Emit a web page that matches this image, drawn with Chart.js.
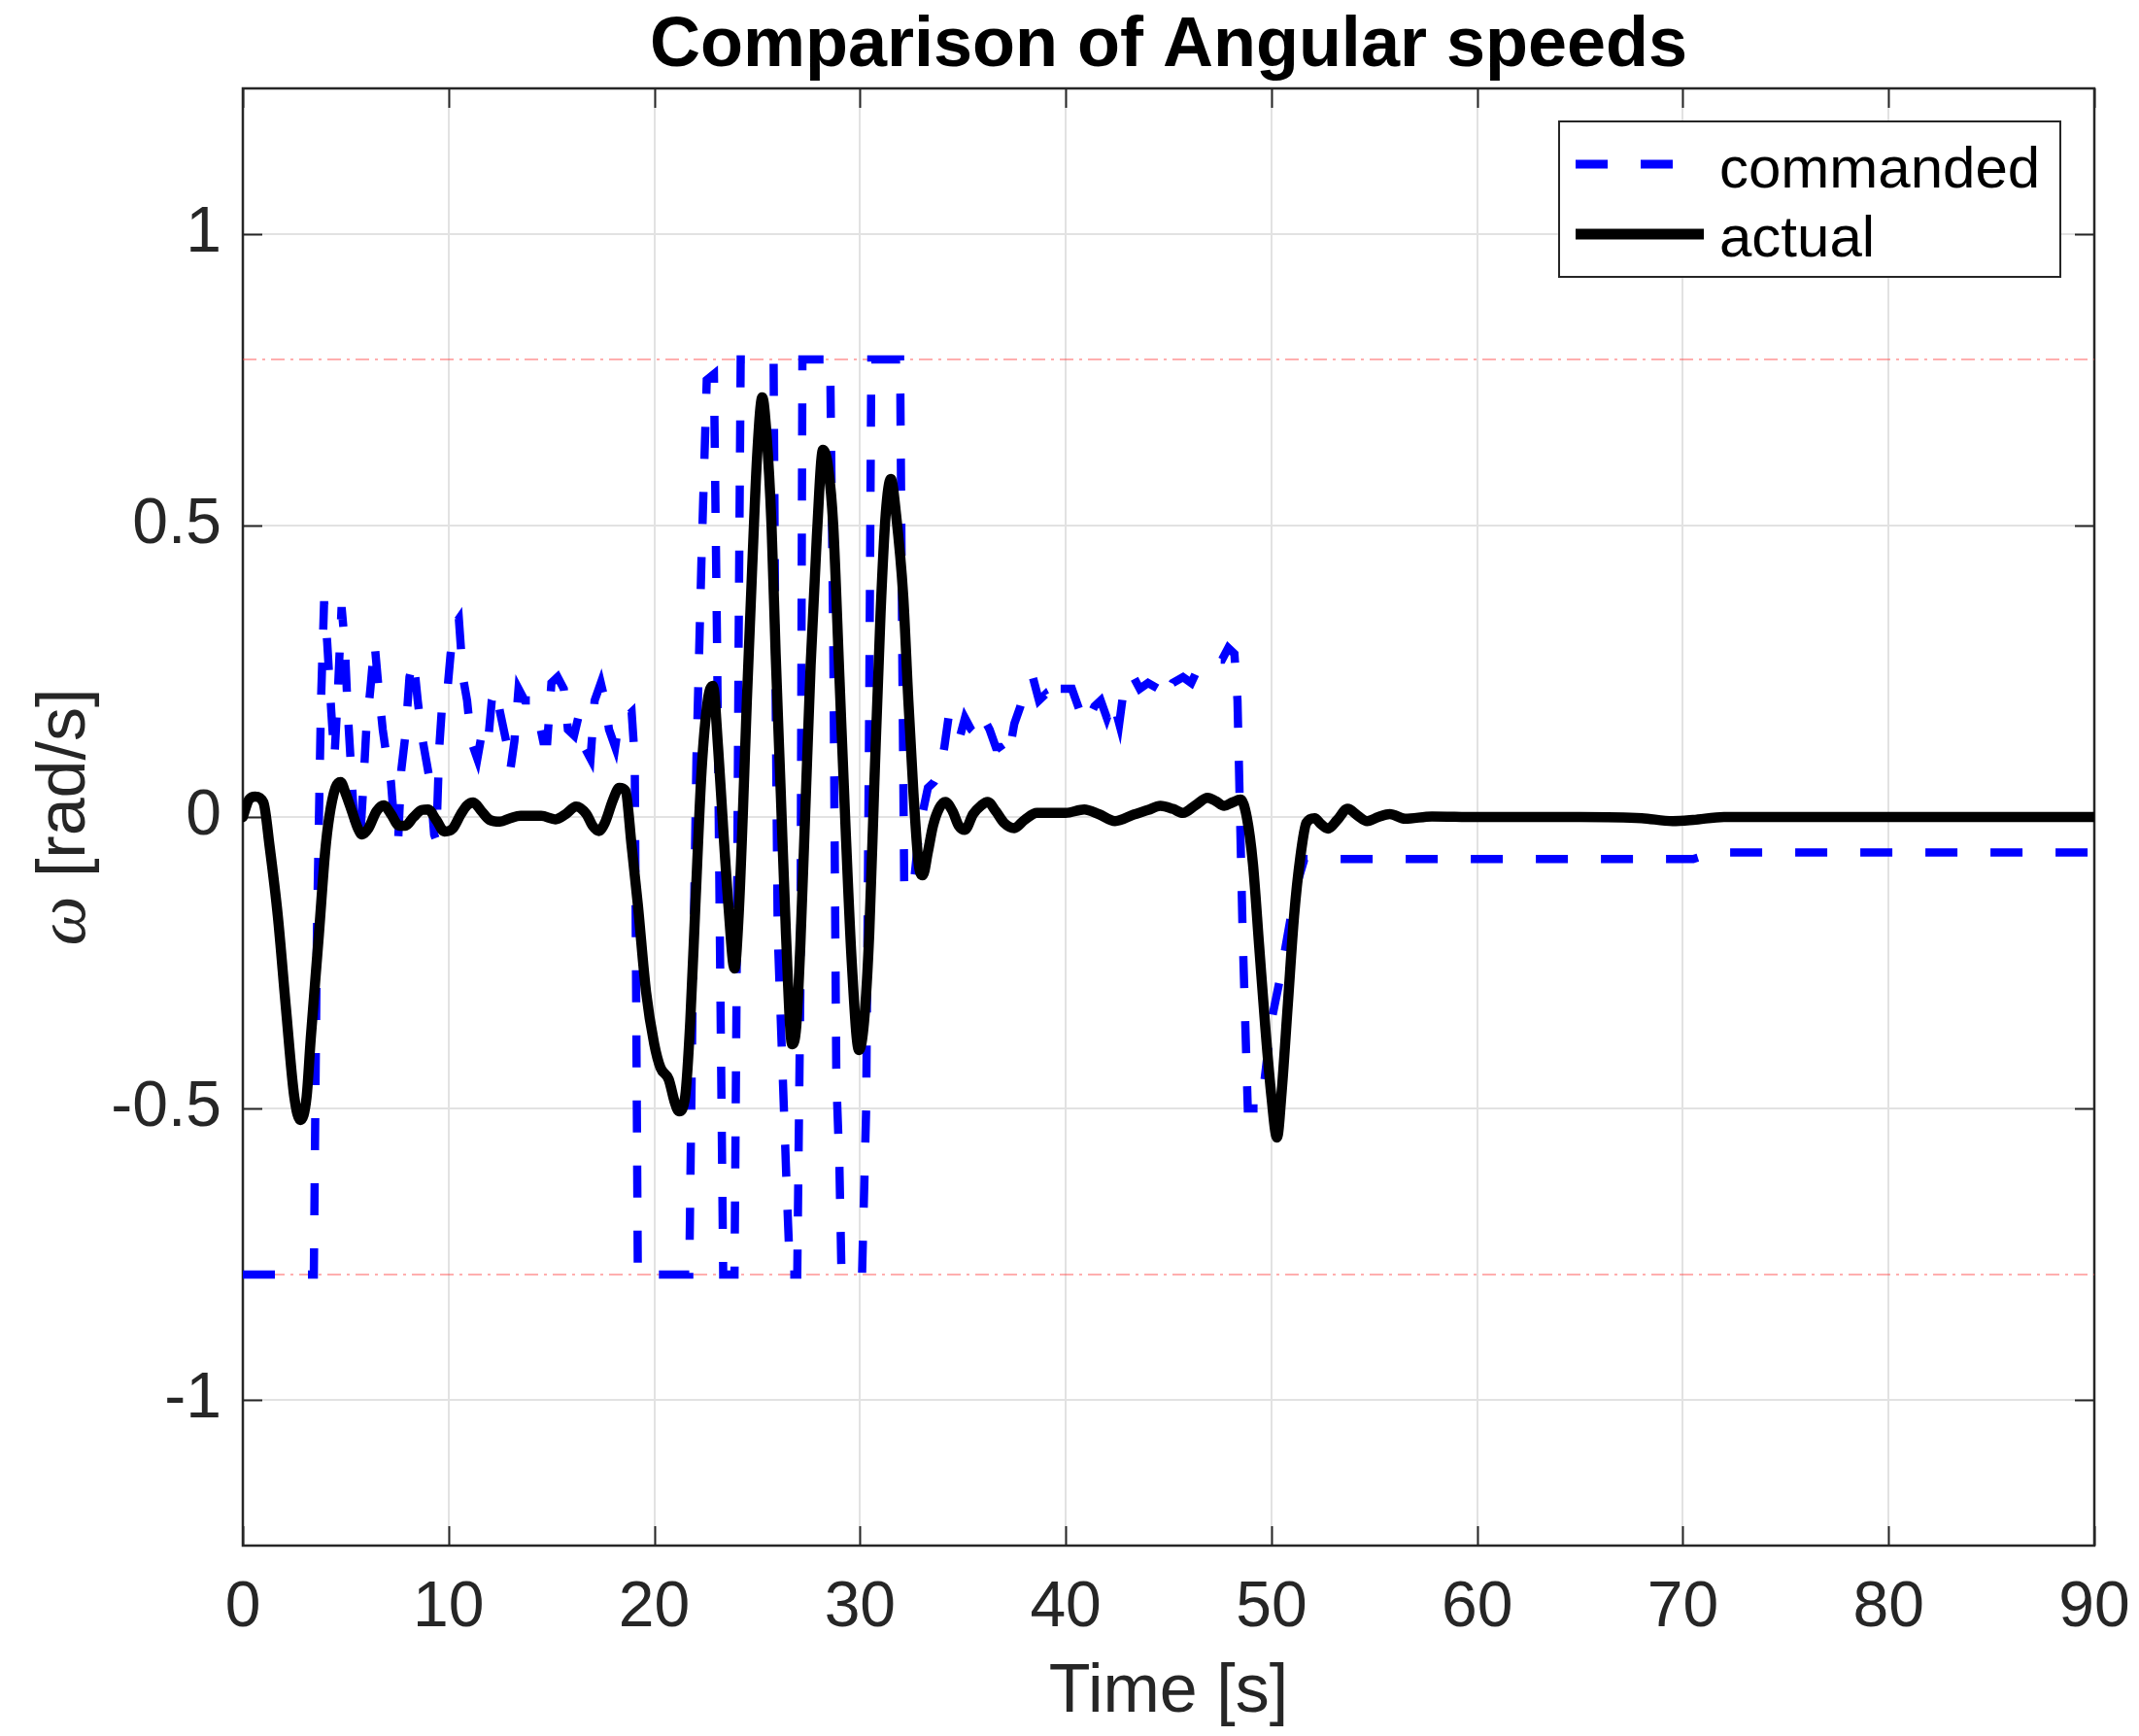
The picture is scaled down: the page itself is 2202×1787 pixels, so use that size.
<!DOCTYPE html>
<html>
<head>
<meta charset="utf-8">
<script src="https://cdn.jsdelivr.net/npm/chart.js@4/dist/chart.umd.min.js"></script>
<style>
  html, body { margin: 0; padding: 0; background: #ffffff; }
  #wrap { width: 2202px; height: 1787px; }
  canvas { display: block; }
</style>
</head>
<body>
<div id="wrap"><canvas id="c" width="2202" height="1787"></canvas></div>
<script>
// ---------------- data ----------------
const chartTitle = 'Comparison of Angular speeds';
const xTitle = 'Time [s]';
const yTitleSymbol = 'ω';
const yTitleRest = ' [rad/s]';
const seriesNames = ['commanded', 'actual'];

const xTicks = [0, 10, 20, 30, 40, 50, 60, 70, 80, 90];
const yTicks = [-1, -0.5, 0, 0.5, 1];

// commanded angular speed (time [s], value [rad/s])
const tCmd = [0, 3.45, 3.6, 3.8, 3.95, 4.1, 4.3, 4.45, 4.6, 4.8, 4.95, 5.1, 5.25, 5.45, 5.7, 5.85, 6.0, 6.2, 6.4, 6.6, 6.8, 7.0, 7.2, 7.4, 7.55, 7.7, 7.9, 8.1, 8.3, 8.5, 8.7, 8.9, 9.1, 9.3, 9.4, 9.55, 9.7, 9.9, 10.1, 10.3, 10.5, 10.7, 10.9, 11.1, 11.4, 11.6, 11.9, 12.1, 12.3, 12.5, 12.8, 13.0, 13.2, 13.4, 13.7, 14.0, 14.3, 14.6, 14.8, 15.0, 15.3, 15.6, 15.8, 16.1, 16.3, 16.6, 16.9, 17.1, 17.4, 17.6, 17.8, 18.1, 18.3, 18.6, 18.9, 19.05, 19.2, 21.7, 21.85, 22.05, 22.3, 22.55, 22.9, 23.05, 23.2, 23.35, 23.9, 24.0, 24.1, 24.2, 25.8, 25.9, 26.0, 26.2, 26.35, 26.45, 26.6, 26.95, 27.1, 27.2, 28.55, 28.7, 28.85, 29.0, 29.1, 30.1, 30.3, 30.45, 30.55, 31.95, 32.05, 32.15, 32.4, 32.6, 32.8, 33.0, 33.3, 33.6, 33.9, 34.1, 34.3, 34.5, 34.8, 35.1, 35.4, 35.7, 36.0, 36.3, 36.6, 36.8, 37.2, 37.5, 37.8, 38.1, 38.4, 38.7, 39.0, 39.3, 39.7, 40.3, 40.7, 41.0, 41.4, 41.7, 42.0, 42.3, 42.6, 42.9, 43.3, 43.6, 44.0, 44.5, 44.8, 45.2, 45.7, 46.1, 46.5, 46.9, 47.2, 47.6, 47.9, 48.2, 48.35, 48.6, 48.85, 49.5, 50.0, 50.4, 50.8, 51.2, 51.6, 70.5, 71.5, 90];
const wCmd = [-0.785, -0.785, -0.2, 0.2, 0.37, 0.3, 0.18, 0.1, 0.2, 0.36, 0.3, 0.18, 0.09, -0.03, -0.04, 0.05, 0.15, 0.22, 0.3, 0.22, 0.15, 0.1, 0.06, -0.03, -0.04, 0.08, 0.14, 0.24, 0.27, 0.2, 0.14, 0.1, 0.06, -0.03, -0.04, 0.12, 0.2, 0.2, 0.28, 0.33, 0.34, 0.24, 0.2, 0.13, 0.1, 0.14, 0.12, 0.2, 0.22, 0.18, 0.13, 0.08, 0.13, 0.22, 0.2, 0.2, 0.18, 0.13, 0.13, 0.23, 0.24, 0.22, 0.15, 0.14, 0.17, 0.12, 0.1, 0.2, 0.23, 0.2, 0.15, 0.12, 0.17, 0.17, 0.18, 0.1, -0.785, -0.785, -0.35, 0.1, 0.45, 0.75, 0.76, 0.3, -0.25, -0.785, -0.785, -0.3, 0.3, 0.785, 0.785, 0.2, -0.2, -0.4, -0.55, -0.65, -0.785, -0.785, -0.3, 0.785, 0.785, 0.3, -0.45, -0.6, -0.785, -0.785, -0.5, 0.2, 0.785, 0.785, 0.3, -0.12, -0.13, -0.12, -0.05, 0.0, 0.05, 0.06, 0.08, 0.12, 0.17, 0.16, 0.13, 0.17, 0.15, 0.14, 0.17, 0.15, 0.12, 0.12, 0.1, 0.16, 0.19, 0.23, 0.24, 0.2, 0.21, 0.19, 0.22, 0.22, 0.18, 0.16, 0.19, 0.2, 0.17, 0.2, 0.16, 0.24, 0.24, 0.22, 0.23, 0.22, 0.2, 0.23, 0.24, 0.23, 0.26, 0.27, 0.27, 0.27, 0.29, 0.28, 0.2, -0.2, -0.5, -0.5, -0.35, -0.28, -0.2, -0.12, -0.072, -0.072, -0.061, -0.061];

// actual angular speed
const tAct = [0, 0.3, 0.6, 1.0, 1.3, 1.7, 2.1, 2.5, 2.8, 3.1, 3.3, 3.7, 4.0, 4.2, 4.5, 4.75, 5.0, 5.3, 5.6, 5.8, 6.1, 6.5, 6.85, 7.2, 7.6, 7.9, 8.3, 8.7, 9.0, 9.4, 9.8, 10.2, 10.6, 10.9, 11.2, 11.6, 12.0, 12.5, 13.0, 13.5, 14.5, 15.2, 15.7, 16.2, 16.7, 17.0, 17.3, 17.6, 18.0, 18.3, 18.6, 18.9, 19.2, 19.6, 20.0, 20.3, 20.7, 21.0, 21.2, 21.5, 21.75, 22.0, 22.3, 22.6, 22.85, 23.1, 23.35, 23.6, 23.9, 24.1, 24.3, 24.5, 24.75, 25.0, 25.25, 25.45, 25.7, 25.9, 26.15, 26.4, 26.7, 26.9, 27.1, 27.35, 27.6, 27.9, 28.2, 28.45, 28.7, 29.0, 29.3, 29.6, 29.95, 30.2, 30.45, 30.7, 31.0, 31.25, 31.5, 31.75, 32.1, 32.35, 32.6, 32.85, 33.05, 33.3, 33.55, 33.85, 34.15, 34.5, 34.8, 35.1, 35.5, 35.9, 36.2, 36.6, 37.0, 37.5, 38.0, 38.6, 40.0, 40.9, 41.6, 42.4, 43.3, 44.0, 44.6, 45.2, 45.7, 46.3, 46.9, 47.3, 47.7, 48.1, 48.5, 48.8, 49.1, 49.4, 49.7, 50.0, 50.27, 50.5, 50.8, 51.1, 51.4, 51.7, 52.1, 52.4, 52.75, 53.2, 53.7, 54.2, 54.65, 55.2, 55.75, 56.5, 57.8, 60, 65, 68, 69.5, 70.5, 72, 80, 90];
const wAct = [0.0, 0.03, 0.035, 0.025, -0.05, -0.17, -0.33, -0.48, -0.52, -0.48, -0.38, -0.2, -0.06, 0.0, 0.05, 0.06, 0.04, 0.01, -0.02, -0.03, -0.02, 0.01, 0.02, 0.005, -0.015, -0.015, 0.0, 0.012, 0.013, -0.005, -0.025, -0.02, 0.005, 0.02, 0.025, 0.01, -0.005, -0.008, -0.002, 0.002, 0.002, -0.004, 0.005, 0.018, 0.005, -0.015, -0.024, -0.01, 0.03, 0.05, 0.045, -0.05, -0.15, -0.3, -0.39, -0.43, -0.45, -0.49, -0.505, -0.48, -0.35, -0.15, 0.08, 0.2, 0.225, 0.12, -0.02, -0.15, -0.26, -0.17, 0.0, 0.2, 0.42, 0.62, 0.72, 0.66, 0.5, 0.28, 0.04, -0.2, -0.39, -0.36, -0.22, 0.02, 0.26, 0.48, 0.63, 0.6, 0.5, 0.24, -0.02, -0.25, -0.4, -0.35, -0.2, 0.06, 0.35, 0.52, 0.58, 0.52, 0.38, 0.2, 0.04, -0.08, -0.1, -0.06, -0.015, 0.015, 0.026, 0.01, -0.015, -0.022, 0.005, 0.02, 0.026, 0.01, -0.01, -0.019, -0.005, 0.007, 0.007, 0.013, 0.005, -0.007, 0.004, 0.012, 0.019, 0.014, 0.007, 0.02, 0.033, 0.027, 0.019, 0.025, 0.03, 0.0, -0.08, -0.22, -0.36, -0.48, -0.55, -0.47, -0.32, -0.17, -0.07, -0.01, -0.002, -0.012, -0.02, -0.005, 0.014, 0.002, -0.007, 0.0, 0.005, -0.003, 0.001, 0.0, 0.0, -0.002, -0.007, -0.005, 0.0, 0.0, 0.0];

// saturation limits (±pi/4)
const limitT = [0, 90];
const limitHigh = [0.785, 0.785];
const limitLow = [-0.785, -0.785];

// ---------------- chart ----------------
const FONT = '"Liberation Sans", Arial, Helvetica, sans-serif';
const AXIS_COLOR = '#262626';
const toXY = (ts, vs) => ts.map((t, i) => ({ x: t, y: vs[i] }));

const decorPlugin = {
  id: 'decor',
  beforeDatasetsDraw(chart) {
    const { ctx, chartArea: a, scales: { x, y } } = chart;
    ctx.save();
    ctx.strokeStyle = AXIS_COLOR;
    ctx.lineWidth = 2;
    ctx.beginPath();
    const tl = 20;
    xTicks.forEach(t => {
      const px = Math.round(x.getPixelForValue(t)) + 0.5;
      ctx.moveTo(px, a.bottom); ctx.lineTo(px, a.bottom - tl);
      ctx.moveTo(px, a.top); ctx.lineTo(px, a.top + tl);
    });
    yTicks.forEach(v => {
      const py = Math.round(y.getPixelForValue(v)) + 0.5;
      ctx.moveTo(a.left, py); ctx.lineTo(a.left + tl, py);
      ctx.moveTo(a.right, py); ctx.lineTo(a.right - tl, py);
    });
    ctx.stroke();
    ctx.lineWidth = 2.5;
    ctx.strokeRect(a.left, a.top, a.right - a.left, a.bottom - a.top);
    ctx.restore();
  },
  afterDatasetsDraw(chart) {
    const { ctx, chartArea: a } = chart;
    ctx.save();
    // title
    ctx.fillStyle = '#000000';
    ctx.font = 'bold 72px ' + FONT;
    ctx.textAlign = 'center';
    ctx.textBaseline = 'alphabetic';
    ctx.fillText(chartTitle, (a.left + a.right) / 2, 68);

    // x axis title
    ctx.fillStyle = AXIS_COLOR;
    ctx.font = '70px ' + FONT;
    ctx.fillText(xTitle, (a.left + a.right) / 2, 1762);

    // y axis title (rotated)
    ctx.save();
    ctx.translate(68, (a.top + a.bottom) / 2);
    ctx.rotate(-Math.PI / 2);
    const symFont = 'italic 72px "Liberation Serif", "DejaVu Serif", serif';
    const restFont = '70px ' + FONT;
    ctx.font = symFont; const w1 = ctx.measureText(yTitleSymbol).width;
    ctx.font = restFont; const w2 = ctx.measureText(yTitleRest).width;
    const x0 = -(w1 + w2) / 2;
    ctx.textAlign = 'left';
    ctx.textBaseline = 'middle';
    ctx.font = symFont; ctx.fillText(yTitleSymbol, x0, 0);
    ctx.font = restFont; ctx.fillText(yTitleRest, x0 + w1, 0);
    ctx.restore();

    // legend
    const lx = 1605, ly = 125, lw = 516, lh = 160;
    ctx.fillStyle = '#ffffff';
    ctx.fillRect(lx, ly, lw, lh);
    ctx.strokeStyle = AXIS_COLOR;
    ctx.lineWidth = 2;
    ctx.strokeRect(lx, ly, lw, lh);
    // commanded sample
    ctx.strokeStyle = '#0000ff';
    ctx.lineWidth = 9;
    ctx.setLineDash([33, 34]);
    ctx.beginPath(); ctx.moveTo(1622, 169); ctx.lineTo(1754, 169); ctx.stroke();
    ctx.setLineDash([]);
    // actual sample
    ctx.strokeStyle = '#000000';
    ctx.lineWidth = 11;
    ctx.beginPath(); ctx.moveTo(1622, 241); ctx.lineTo(1754, 241); ctx.stroke();
    ctx.fillStyle = '#000000';
    ctx.font = '60px ' + FONT;
    ctx.textAlign = 'left';
    ctx.textBaseline = 'alphabetic';
    ctx.fillText(seriesNames[0], 1770, 193);
    ctx.fillText(seriesNames[1], 1770, 264);
    ctx.restore();
  }
};

new Chart(document.getElementById('c'), {
  type: 'line',
  data: {
    datasets: [
      {
        label: seriesNames[0],
        data: toXY(tCmd, wCmd),
        borderColor: '#0000ff',
        borderWidth: 8.5,
        borderDash: [33, 34],
        borderCapStyle: 'butt',
        borderJoinStyle: 'miter',
        pointRadius: 0,
        tension: 0,
        fill: false,
        order: 2
      },
      {
        label: seriesNames[1],
        data: toXY(tAct, wAct),
        borderColor: '#000000',
        borderWidth: 10.5,
        borderJoinStyle: 'round',
        borderCapStyle: 'round',
        cubicInterpolationMode: 'monotone',
        pointRadius: 0,
        fill: false,
        order: 1
      },
      {
        label: 'upper limit',
        data: toXY(limitT, limitHigh),
        borderColor: 'rgba(255,60,60,0.55)',
        borderWidth: 1.5,
        borderDash: [14, 6, 3, 6],
        pointRadius: 0,
        tension: 0,
        fill: false,
        order: 3
      },
      {
        label: 'lower limit',
        data: toXY(limitT, limitLow),
        borderColor: 'rgba(255,60,60,0.55)',
        borderWidth: 1.5,
        borderDash: [14, 6, 3, 6],
        pointRadius: 0,
        tension: 0,
        fill: false,
        order: 3
      }
    ]
  },
  options: {
    responsive: false,
    devicePixelRatio: 1,
    animation: false,
    layout: { padding: { top: 91, right: 46, bottom: 0, left: 0 } },
    plugins: {
      legend: { display: false },
      title: { display: false },
      tooltip: { enabled: false }
    },
    scales: {
      x: {
        type: 'linear',
        min: 0,
        max: 90,
        afterBuildTicks: (s) => { s.ticks = xTicks.map(v => ({ value: v })); },
        afterFit: (s) => { s.height = 196; s.paddingLeft = 0; s.paddingRight = 0; },
        grid: { color: '#e2e2e2', lineWidth: 2, drawTicks: false },
        border: { display: false },
        ticks: {
          padding: 25,
          maxRotation: 0,
          autoSkip: false,
          color: AXIS_COLOR,
          font: { family: FONT, size: 66 },
          callback: (v) => String(v)
        }
      },
      y: {
        type: 'linear',
        min: -1.25,
        max: 1.25,
        afterBuildTicks: (s) => { s.ticks = yTicks.map(v => ({ value: v })); },
        afterFit: (s) => { s.width = 250; s.paddingTop = 0; s.paddingBottom = 0; },
        grid: { color: '#e2e2e2', lineWidth: 2, drawTicks: false },
        border: { display: false },
        ticks: {
          padding: 22,
          autoSkip: false,
          color: AXIS_COLOR,
          font: { family: FONT, size: 66 },
          callback: (v) => String(v)
        }
      }
    }
  },
  plugins: [decorPlugin]
});
</script>
</body>
</html>
